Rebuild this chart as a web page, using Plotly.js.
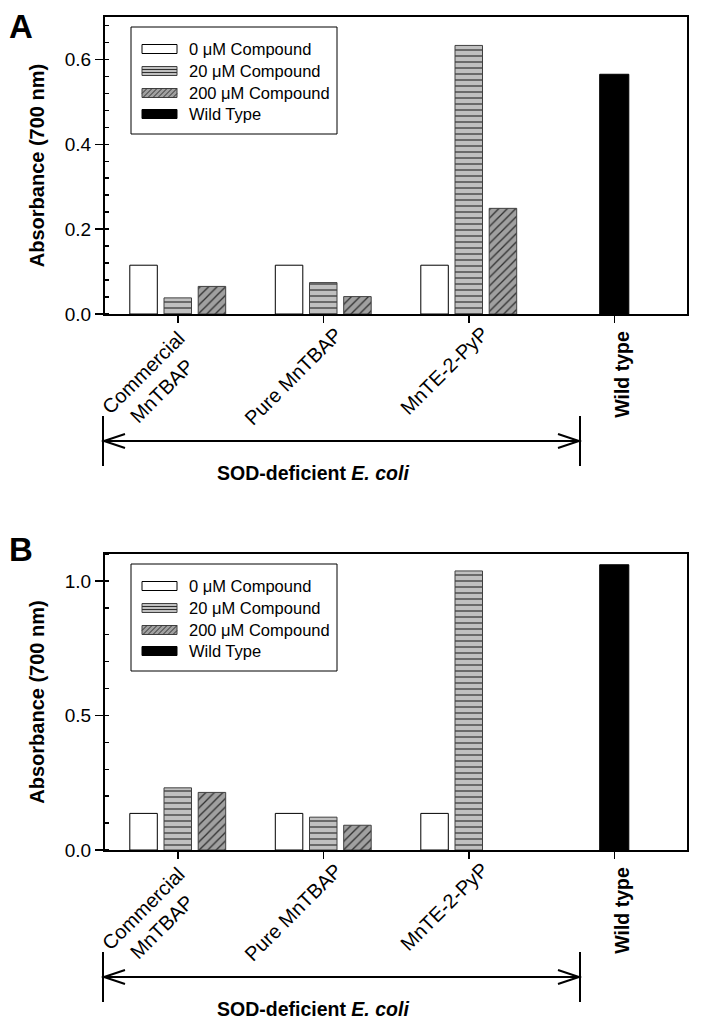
<!DOCTYPE html>
<html><head><meta charset="utf-8">
<script src="https://cdn.plot.ly/plotly-3.0.1.min.js"></script>
<style>html,body{margin:0;padding:0;background:#fff}#chart{width:706px;height:1030px}</style>
</head><body><div id="chart"></div>
<script>
// ---------- data ----------
const categories = ['Commercial MnTBAP', 'Pure MnTBAP', 'MnTE-2-PyP', 'Wild type'];
const compoundCategories = ['Commercial MnTBAP', 'Pure MnTBAP', 'MnTE-2-PyP'];
const wildCategory = ['Wild type'];
const xLabelText = ['Commercial<br>MnTBAP', 'Pure MnTBAP', 'MnTE-2-PyP'];
const wildLabelText = 'Wild type';
const seriesNames = ['0 μM Compound', '20 μM Compound', '200 μM Compound', 'Wild Type'];
const panelA_0uM = [0.115, 0.115, 0.115];
const panelA_20uM = [0.038, 0.074, 0.633];
const panelA_200uM = [0.065, 0.041, 0.249];
const panelA_wild = [0.565];
const panelB_0uM = [0.136, 0.136, 0.136];
const panelB_20uM = [0.231, 0.122, 1.037];
const panelB_200uM = [0.214, 0.092, null];
const panelB_wild = [1.06];
const yTitle = 'Absorbance (700 nm)';
const groupLabel = 'SOD-deficient <i>E. coli</i>';
const panelLetters = ['A', 'B'];
const yTicksA = {dtick: 0.2, minor: 0.04, max: 0.70};
const yTicksB = {dtick: 0.5, minor: 0.1, max: 1.10};

// ---------- layout geometry (pixels) ----------
const W = 706, H = 1030;
const FONT = 'Liberation Sans, Arial, Helvetica, sans-serif';
const plotLeft = 105, plotRight = 687;
const panels = [
  {top: 17, bottom: 314, xa: 'x', ya: 'y', ticks: yTicksA,
   data: [panelA_0uM, panelA_20uM, panelA_200uM], wild: panelA_wild, letterY: 26},
  {top: 554, bottom: 850, xa: 'x2', ya: 'y2', ticks: yTicksB,
   data: [panelB_0uM, panelB_20uM, panelB_200uM], wild: panelB_wild, letterY: 549}
];
const px = x => x / W;
const py = y => 1 - y / H;
const labelShift = [[32, -10], [26, -6], [26, -6]];

// ---------- styles ----------
const barWidth = 0.189;
const barOffsets = [-0.3295, -0.0945, 0.1405];
const seriesStyles = [
  {color: '#ffffff', line: {color: '#000000', width: 1}},
  {color: '#c0c0c0', line: {color: '#404040', width: 1},
   pattern: {shape: '-', size: 6, solidity: 0.2, fgcolor: '#303030', bgcolor: '#c0c0c0', fillmode: 'replace'}},
  {color: '#a0a0a0', line: {color: '#404040', width: 1},
   pattern: {shape: '/', size: 6, solidity: 0.22, fgcolor: '#303030', bgcolor: '#a0a0a0', fillmode: 'replace'}}
];

const traces = [];
const shapes = [];
const annotations = [];
const layout = {
  width: W, height: H,
  margin: {l: 0, r: 0, t: 0, b: 0},
  paper_bgcolor: '#ffffff', plot_bgcolor: '#ffffff',
  barmode: 'overlay',
  showlegend: false,
  font: {family: FONT, color: '#000000'}
};

panels.forEach((p, pi) => {
  const sfx = pi === 0 ? '' : '2';
  p.data.forEach((vals, si) => {
    traces.push({
      type: 'bar', name: seriesNames[si], x: compoundCategories, y: vals,
      xaxis: p.xa, yaxis: p.ya, width: barWidth, offset: barOffsets[si],
      marker: Object.assign({}, seriesStyles[si]), showlegend: false
    });
  });
  traces.push({
    type: 'bar', name: seriesNames[3], x: wildCategory, y: p.wild,
    xaxis: p.xa, yaxis: p.ya, width: 0.2, offset: -0.1,
    marker: {color: '#000000', line: {color: '#000000', width: 1}}, showlegend: false
  });

  const yDomain = [py(p.bottom), py(p.top)];
  layout['xaxis' + sfx] = {
    type: 'category', categoryorder: 'array', categoryarray: categories,
    range: [-0.5, 3.5], domain: [px(plotLeft), px(plotRight)], anchor: p.ya,
    showline: true, mirror: true, linecolor: '#000', linewidth: 2,
    ticks: 'outside', ticklen: 7, tickwidth: 1.5, tickcolor: '#000',
    showticklabels: false, showgrid: false, zeroline: false, automargin: false, fixedrange: true
  };
  layout['yaxis' + sfx] = {
    range: [0, p.ticks.max], domain: yDomain, anchor: p.xa,
    dtick: p.ticks.dtick, tick0: 0, tickformat: '.1f',
    showline: true, mirror: true, linecolor: '#000', linewidth: 2,
    ticks: 'outside', ticklen: 8, tickwidth: 1.5, tickcolor: '#000',
    tickfont: {family: FONT, size: 19, color: '#000'},
    minor: {dtick: p.ticks.minor, tick0: 0, ticks: 'inside', ticklen: 4, tickwidth: 1.5, tickcolor: '#000', showgrid: false},
    title: {text: yTitle, font: {family: FONT, size: 20, weight: 'bold', color: '#000'}, standoff: 15},
    showgrid: false, zeroline: false, automargin: false, fixedrange: true
  };
  layout['yaxis' + (pi === 0 ? '3' : '4')] = {
    overlaying: p.ya, anchor: p.xa, side: 'left', range: [0, p.ticks.max],
    dtick: p.ticks.dtick, tick0: 0, ticks: 'inside', ticklen: 4, tickwidth: 1.5, tickcolor: '#000',
    showticklabels: false, showline: false, showgrid: false, zeroline: false, fixedrange: true
  };

  compoundCategories.forEach((c, i) => {
    annotations.push({
      x: c, xref: p.xa, y: py(p.bottom), yref: 'paper',
      text: xLabelText[i], textangle: -45, showarrow: false, align: 'center',
      xanchor: 'right', yanchor: 'top', xshift: labelShift[i][0], yshift: labelShift[i][1],
      font: {family: FONT, size: 20, color: '#000'}
    });
  });
  annotations.push({
    x: wildCategory[0], xref: p.xa, y: py(p.bottom), yref: 'paper',
    text: '<b>' + wildLabelText + '</b>', textangle: -90, showarrow: false,
    xanchor: 'center', yanchor: 'top', xshift: 7, yshift: -15,
    font: {family: FONT, size: 19.5, color: '#000'}
  });

  const ay = p.bottom + 127, aL = 103, aR = 580;
  const lineStyle = {color: '#000', width: 2};
  shapes.push({type: 'line', xref: 'paper', yref: 'paper', x0: px(aL), x1: px(aR), y0: py(ay), y1: py(ay), line: lineStyle});
  [aL, aR].forEach(xx => {
    shapes.push({type: 'line', xref: 'paper', yref: 'paper', x0: px(xx), x1: px(xx), y0: py(p.bottom + 102), y1: py(p.bottom + 152), line: lineStyle});
  });
  const hl = 22, hh = 7;
  shapes.push({type: 'path', xref: 'paper', yref: 'paper', line: lineStyle,
    path: `M${px(aL + hl)},${py(ay - hh)} L${px(aL + 1)},${py(ay)} L${px(aL + hl)},${py(ay + hh)}`});
  shapes.push({type: 'path', xref: 'paper', yref: 'paper', line: lineStyle,
    path: `M${px(aR - hl)},${py(ay - hh)} L${px(aR - 1)},${py(ay)} L${px(aR - hl)},${py(ay + hh)}`});
  annotations.push({
    x: px(313), y: py(p.bottom + 159), xref: 'paper', yref: 'paper',
    text: '<b>' + groupLabel + '</b>', showarrow: false, xanchor: 'center', yanchor: 'middle',
    font: {family: FONT, size: 19.5, color: '#000'}
  });

  annotations.push({
    x: px(21), y: py(p.letterY), xref: 'paper', yref: 'paper', text: '<b>' + panelLetters[pi] + '</b>',
    showarrow: false, xanchor: 'center', yanchor: 'middle', font: {family: FONT, size: 33, color: '#000'}
  });

  const lT = p.top + 10, lB = p.top + 117, lL = 131, lR = 337;
  shapes.push({type: 'rect', xref: 'paper', yref: 'paper', x0: px(lL), x1: px(lR), y0: py(lB), y1: py(lT),
    line: {color: '#000', width: 1}, fillcolor: '#ffffff'});
  const rows = [22, 44, 66, 87];
  const sL = 142, sR = 177, sh = 9;
  const swatchFill = ['#ffffff', '#c0c0c0', '#a0a0a0', '#000000'];
  const swatchLine = ['#000', '#404040', '#404040', '#000'];
  rows.forEach((r, k) => {
    const cy = lT + r, sT = cy - sh / 2, sB = cy + sh / 2;
    shapes.push({type: 'rect', xref: 'paper', yref: 'paper', x0: px(sL), x1: px(sR), y0: py(sB), y1: py(sT),
      line: {color: swatchLine[k], width: 1}, fillcolor: swatchFill[k]});
    if (k === 1) {
      let d = '';
      [sT + 3, sT + 6].forEach(yy => { d += `M${px(sL)},${py(yy)} L${px(sR)},${py(yy)} `; });
      shapes.push({type: 'path', xref: 'paper', yref: 'paper', path: d, line: {color: '#303030', width: 1}});
    }
    if (k === 2) {
      let d = '';
      for (let s = sL - sh; s < sR; s += 5) {
        const xa = Math.max(s, sL), xb = Math.min(s + sh, sR);
        if (xb <= xa) continue;
        d += `M${px(xa)},${py(sB - (xa - s))} L${px(xb)},${py(sB - (xb - s))} `;
      }
      shapes.push({type: 'path', xref: 'paper', yref: 'paper', path: d, line: {color: '#303030', width: 1}});
    }
    annotations.push({
      x: px(187), y: py(cy), xref: 'paper', yref: 'paper', text: seriesNames[k], showarrow: false,
      xanchor: 'left', yanchor: 'middle', font: {family: FONT, size: 16.5, color: '#000'}
    });
  });
});

layout.shapes = shapes;
layout.annotations = annotations;
Plotly.newPlot('chart', traces, layout, {displayModeBar: false, staticPlot: true});
</script>
</body></html>
